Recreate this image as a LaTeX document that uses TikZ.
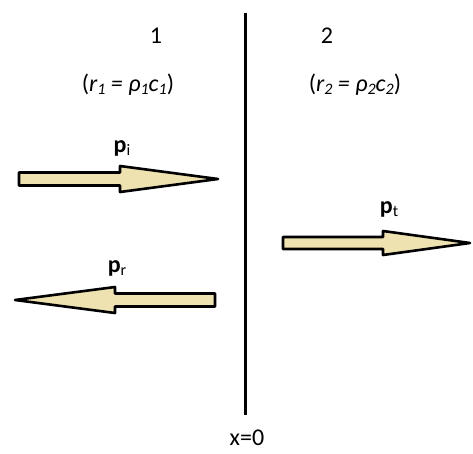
\documentclass[tikz,border=0pt]{standalone}
\usepackage{fontspec}
\setmainfont{Carlito}
\newcommand{\sbs}[1]{\raisebox{-3pt}{\fontsize{16}{18}\selectfont #1}}
\begin{document}
\begin{tikzpicture}[x=1pt,y=-1pt,
  lbl/.style={inner sep=0pt,font=\fontsize{24}{28}\selectfont},
  arr/.style={draw=black,line width=2.6pt,fill=beige,line join=round}]
\definecolor{beige}{RGB}{238,226,176}
\useasboundingbox (0,0) rectangle (473,453);
% interface
\coordinate (top) at (245,13);
\coordinate (bot) at (245,415);
\draw[line width=3pt] (top) -- (bot);
\node[lbl] (x0) at (247,438) {x=0};
\node[lbl] (m1) at (156,36) {1};
\node[lbl] (m2) at (327,36) {2};
\node[lbl] (r1) at (128,85) {(\textit{r\sbs{1} = ρ\sbs{1}c\sbs{1}})};
\node[lbl] (r2) at (355,85) {(\textit{r\sbs{2} = ρ\sbs{2}c\sbs{2}})};
% incident
\draw[arr] (19,172.5) -- (120,172.5) -- (120,166) -- (218,179) -- (120,192) -- (120,185.5) -- (19,185.5) -- cycle;
\node[lbl] (pi) at (122,148) {\textbf{p}\sbs{i}};
% reflected
\draw[arr] (215,293.5) -- (115,293.5) -- (115,287) -- (15,300) -- (115,313) -- (115,306.5) -- (215,306.5) -- cycle;
\node[lbl] (pr) at (117,268) {\textbf{p}\sbs{r}};
% transmitted
\draw[arr] (283,237) -- (383,237) -- (383,231) -- (470,243) -- (383,255) -- (383,249) -- (283,249) -- cycle;
\node[lbl] (pt) at (389,209) {\textbf{p}\sbs{t}};
\end{tikzpicture}
\end{document}
